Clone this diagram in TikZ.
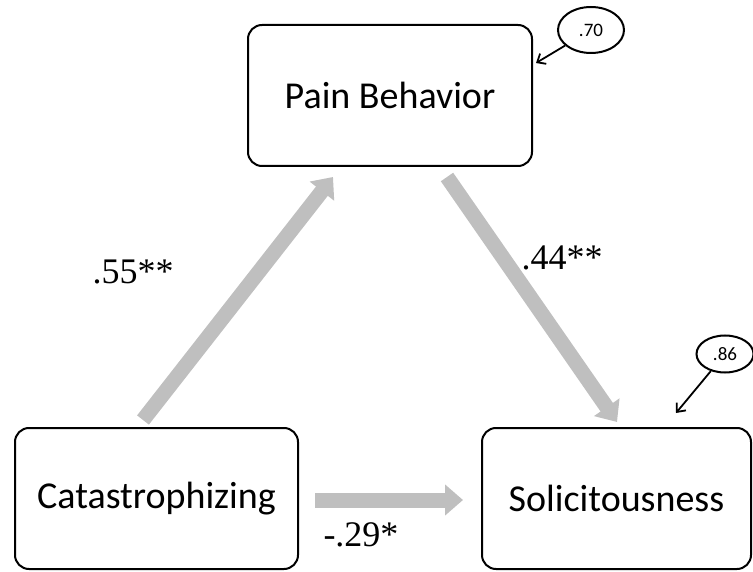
\documentclass[tikz,border=0pt]{standalone}
\usepackage{fontspec}
\setmainfont{Carlito}
\newfontfamily\timesf{Liberation Serif}
\usetikzlibrary{arrows.meta,shapes.geometric}
\definecolor{arrowgray}{HTML}{BFBFBF}
\tikzset{
  varbox/.style={draw=black, line width=2pt, rounded corners=14pt, inner sep=0pt, font=\fontsize{38}{40}\selectfont},
  pathlab/.style={font=\timesf\fontsize{36}{38}\selectfont, inner sep=0pt},
  bigarrow/.style={draw=arrowgray, line width=15pt, -{Triangle[width=30pt,length=18pt]}},
  errell/.style={draw=black, ellipse, line width=2pt, inner sep=0pt, font=\fontsize{19}{21}\selectfont},
  errarrow/.style={draw=black, line width=1.8pt, -{Straight Barb[length=7pt,width=12pt]}}
}
\begin{document}
\begin{tikzpicture}[x=1pt,y=-1pt]
\useasboundingbox (0,0) rectangle (753,572);
% boxes
\node[varbox, minimum width=284pt, minimum height=141pt] (pain) at (390,95.5) {Pain Behavior};
\node[varbox, minimum width=283pt, minimum height=141pt] (cat) at (156.5,498.5) {Catastrophizing};
\node[varbox, minimum width=269pt, minimum height=141pt] (sol) at (616.5,498.5) {Solicitousness};
% connector ends
\coordinate (a1s) at (143,420);
\coordinate (a1e) at (333,177);
\coordinate (a2s) at (447,177);
\coordinate (a2e) at (617,422);
\coordinate (a3s) at (315,500);
\coordinate (a3e) at (463,500);
\draw[bigarrow] (a1s) -- (a1e);
\draw[bigarrow] (a2s) -- (a2e);
\draw[bigarrow] (a3s) -- (a3e);
% labels
\node[pathlab] (l1) at (133,272) {.55**};
\node[pathlab] (l2) at (562,258) {.44**};
\node[pathlab] (l3) at (361,535) {-.29*};
% error terms
\node[errell, minimum width=66pt, minimum height=46pt] (e1) at (591,30) {.70};
\node[errell, minimum width=57pt, minimum height=37pt] (e2) at (725,354) {.86};
\coordinate (e1t) at (536,63);
\coordinate (e2t) at (676,413);
\draw[errarrow] (e1) -- (e1t);
\draw[errarrow] (e2) -- (e2t);
\end{tikzpicture}
\end{document}
